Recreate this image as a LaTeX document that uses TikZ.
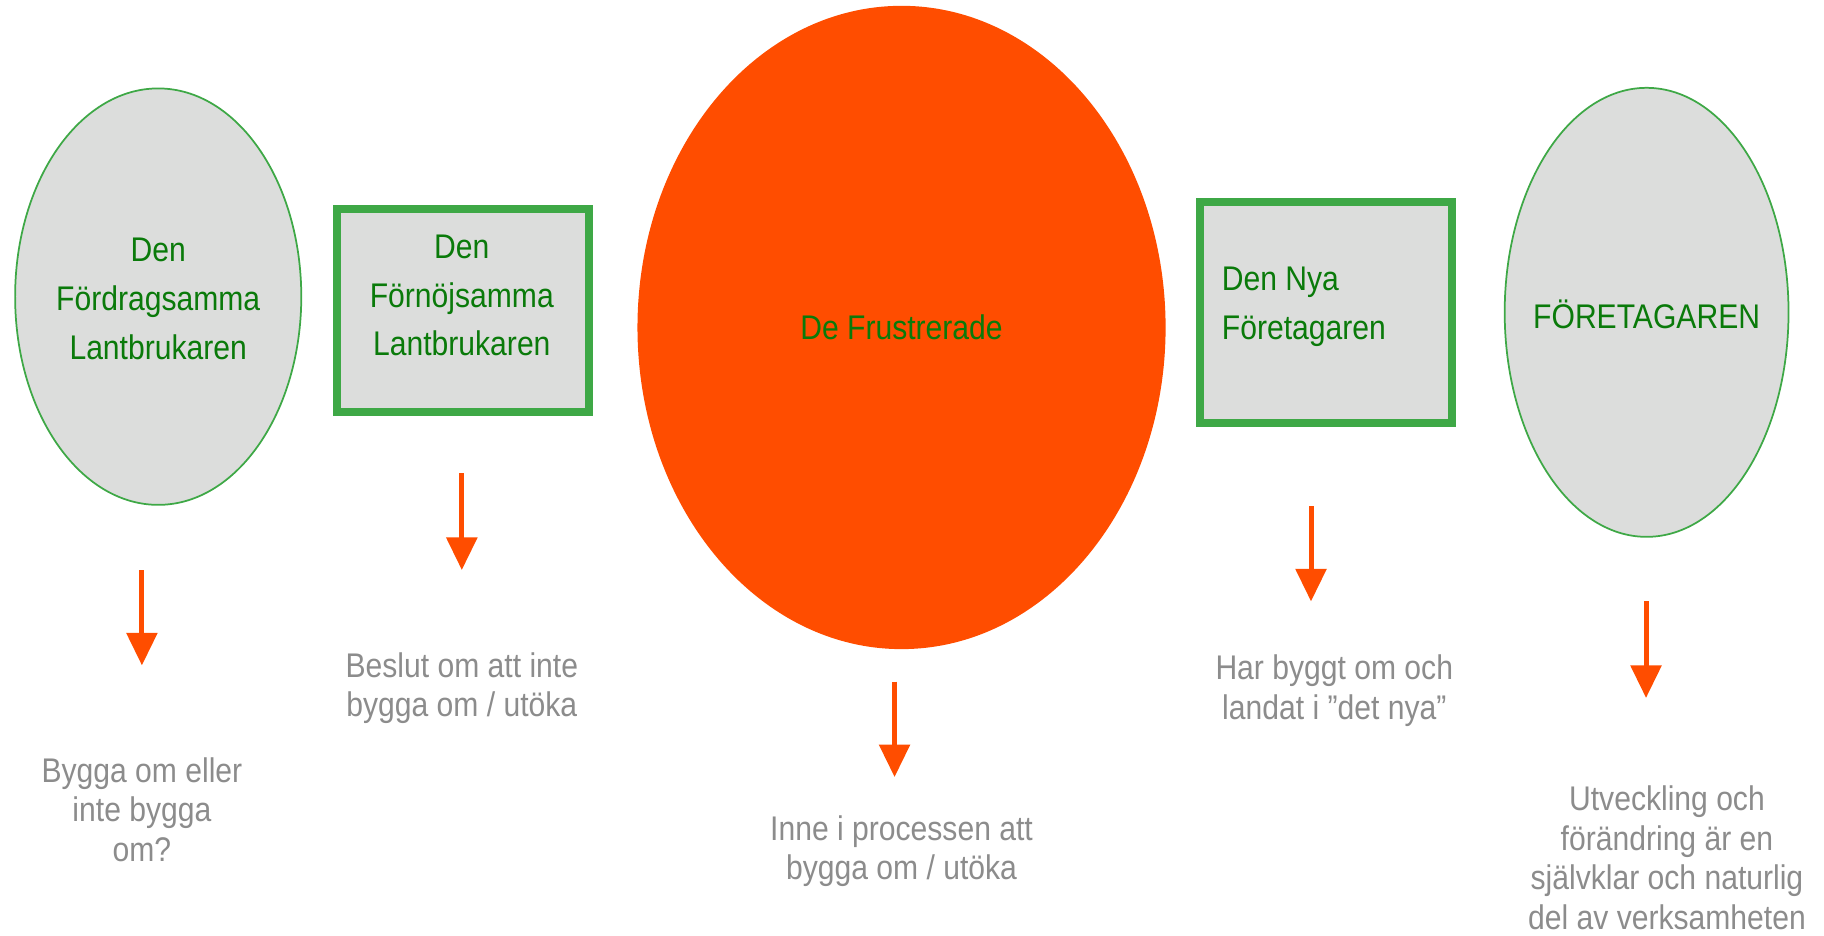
\documentclass[tikz,border=0pt]{standalone}
\usepackage{fontspec}
\setmainfont{Liberation Sans}[FakeStretch=0.88]
\usetikzlibrary{shapes.geometric,arrows.meta}
\definecolor{boxgreen}{RGB}{62,168,70}
\definecolor{txtgreen}{RGB}{10,122,10}
\definecolor{shade}{RGB}{220,221,220}
\definecolor{hot}{RGB}{255,77,0}
\definecolor{note}{RGB}{140,140,140}
\begin{document}
\begin{tikzpicture}[x=0.5pt,y=-0.5pt,
    oval/.style={ellipse,draw=boxgreen,line width=0.75pt,fill=shade,inner sep=0pt},
    frame/.style={rectangle,draw=boxgreen,line width=3.5pt,fill=shade,inner sep=0pt},
    headtxt/.style={text=txtgreen,align=center,inner sep=0pt,font=\fontsize{14.7}{21}\selectfont},
    notetxt/.style={text=note,align=center,inner sep=0pt,font=\fontsize{14.7}{17}\selectfont},
    down/.style={draw=hot,line width=2.15pt,-{Triangle[width=13pt,length=14pt]}}]
  \useasboundingbox (0,0) rectangle (1568,804);
  % the five groups, left to right
  \node[oval,minimum width=123pt,minimum height=179pt] (ford) at (136,255) {};
  \node[headtxt] (fordt) at (136,257) {Den\\Fördragsamma\\Lantbrukaren};
  \node[frame,minimum width=108.5pt,minimum height=87.5pt] (fnoj) at (398,267) {};
  \node[headtxt] (fnojt) at (397,254) {Den\\Förnöjsamma\\Lantbrukaren};
  \node[ellipse,fill=hot,inner sep=0pt,minimum width=227pt,minimum height=276.5pt,
    headtxt] (frust) at (775,281.5) {De Frustrerade};
  \node[frame,minimum width=108.5pt,minimum height=95pt] (nya) at (1140,268.5) {};
  \node[headtxt,align=left,anchor=west] (nyat) at (1050,263.5) {Den Nya\\Företagaren};
  \node[oval,minimum width=122pt,minimum height=193pt] (fore) at (1415.5,268.5) {};
  \node[headtxt] (foret) at (1415.5,270) {FÖRETAGAREN};
  % arrows
  \foreach \n/\x/\ya/\yb in {a/122/490/572,b/397/407/490,c/769/586/668,d/1127/435/517,e/1415/517/600} {
    \coordinate (\n0) at (\x,\ya);
    \coordinate (\n1) at (\x,\yb);
    \draw[down] (\n0) -- (\n1);
  }
  % notes under the arrows
  \node[notetxt] (fordn) at (122,696) {Bygga om eller\\inte bygga\\om?};
  \node[notetxt] (fnojn) at (397,591.5) {Beslut om att inte\\bygga om / utöka};
  \node[notetxt] (frustn) at (775,731.5) {Inne i processen att\\bygga om / utöka};
  \node[notetxt] (nyan) at (1147,593.5) {Har byggt om och\\landat i ”det nya”};
  \node[notetxt] (foren) at (1433,737.5) {Utveckling och\\förändring är en\\självklar och naturlig\\del av verksamheten};
\end{tikzpicture}
\end{document}
